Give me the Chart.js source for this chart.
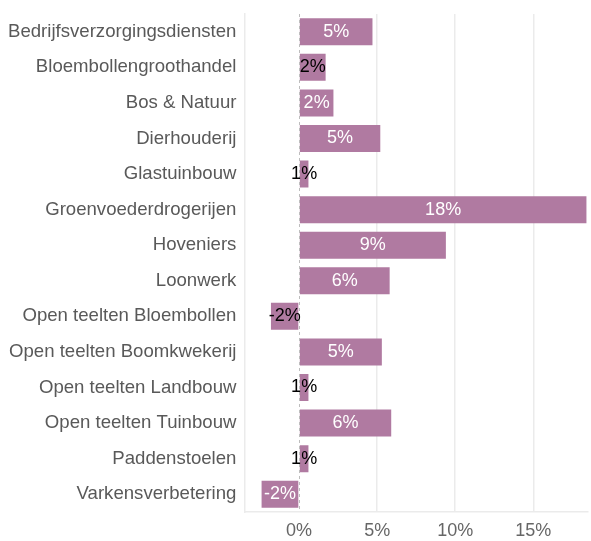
<!DOCTYPE html>
<html>
<head>
<meta charset="utf-8">
<script src="https://cdn.jsdelivr.net/npm/chart.js@4"></script>
<style>
  body { margin: 0; background: #fff; }
  #wrap { width: 591px; height: 541px; }
</style>
</head>
<body>
<div id="wrap"><canvas id="chart"></canvas></div>
<script>
const categories = [
    'Bedrijfsverzorgingsdiensten', 'Bloembollengroothandel', 'Bos & Natuur', 'Dierhouderij',
    'Glastuinbouw', 'Groenvoederdrogerijen', 'Hoveniers', 'Loonwerk',
    'Open teelten Bloembollen', 'Open teelten Boomkwekerij', 'Open teelten Landbouw',
    'Open teelten Tuinbouw', 'Paddenstoelen', 'Varkensverbetering'
];
const values = [4.7, 1.7, 2.2, 5.2, 0.6, 18.4, 9.4, 5.8, -1.8, 5.3, 0.6, 5.9, 0.6, -2.4];
const tickValues = [0, 5, 10, 15];

const barColor = '#b07aa1';
const fontFamily = '"Liberation Sans", Arial, sans-serif';

// labels in the bars, white when they fit and black when not
const barLabels = {
    id: 'barLabels',
    afterDatasetsDraw(chart) {
        const ctx = chart.ctx;
        const xScale = chart.scales.x;
        const meta = chart.getDatasetMeta(0);

        // dashed zero line
        const x0 = Math.round(xScale.getPixelForValue(0)) + 0.5;
        ctx.save();
        ctx.strokeStyle = '#bdbdbd';
        ctx.lineWidth = 1;
        ctx.setLineDash([3, 3]);
        ctx.beginPath();
        ctx.moveTo(x0, chart.chartArea.top);
        ctx.lineTo(x0, chart.chartArea.bottom);
        ctx.stroke();
        ctx.restore();

        ctx.save();
        ctx.font = '18px ' + fontFamily;
        ctx.textAlign = 'center';
        ctx.textBaseline = 'middle';
        meta.data.forEach((bar, i) => {
            const text = Math.round(values[i]) + '%';
            const w = Math.abs(bar.x - bar.base);
            const tw = ctx.measureText(text).width;
            ctx.fillStyle = tw + 4 < w ? '#ffffff' : '#000000';
            ctx.fillText(text, (bar.x + bar.base) / 2, bar.y);
        });
        ctx.restore();
    }
};

new Chart(document.getElementById('chart'), {
    type: 'bar',
    data: {
        labels: categories,
        datasets: [{
            data: values,
            backgroundColor: barColor,
            barPercentage: 0.76,
            categoryPercentage: 1
        }]
    },
    options: {
        indexAxis: 'y',
        responsive: true,
        maintainAspectRatio: false,
        animation: false,
        layout: { padding: { top: 14, right: 3, left: 0, bottom: 0 } },
        plugins: {
            legend: { display: false },
            tooltip: { enabled: false }
        },
        scales: {
            x: {
                min: -3.5,
                max: 18.5,
                afterBuildTicks: axis => {
                    axis.ticks = tickValues.map(v => ({ value: v }));
                },
                afterFit: axis => { axis.height = 29; },
                grid: {
                    color: c => (c.tick && c.tick.value === 0) ? 'rgba(0,0,0,0)' : '#ebebeb',
                    lineWidth: 1.5,
                    drawTicks: false
                },
                border: { color: '#ebebeb', width: 1.5 },
                ticks: {
                    color: '#666666',
                    font: { size: 18, family: fontFamily },
                    padding: 8,
                    callback: v => v + '%'
                }
            },
            y: {
                afterFit: axis => { axis.paddingTop = 0; axis.paddingBottom = 0; },
                grid: { display: false, drawTicks: false },
                border: { color: '#ebebeb', width: 1.5 },
                ticks: {
                    color: '#595959',
                    font: { size: 18.6, family: fontFamily },
                    padding: 8
                }
            }
        }
    },
    plugins: [barLabels]
});
</script>
</body>
</html>
